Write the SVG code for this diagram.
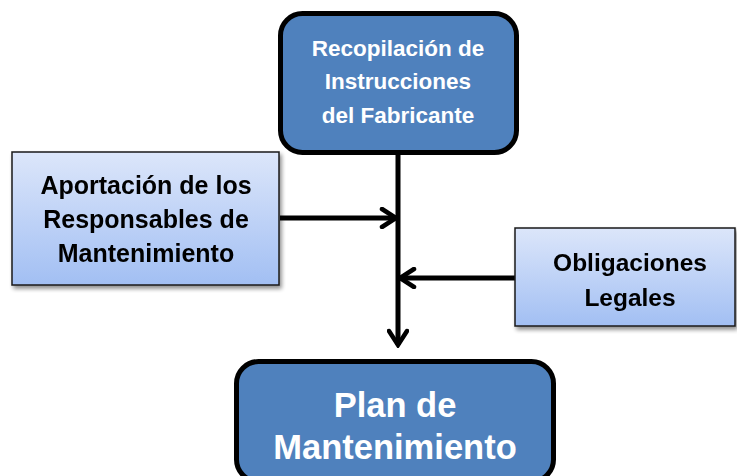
<svg xmlns="http://www.w3.org/2000/svg" width="737" height="476" viewBox="0 0 737 476">
<defs>
<linearGradient id="lg" x1="0" y1="0" x2="0" y2="1">
<stop offset="0" stop-color="#dce6fa"/>
<stop offset="1" stop-color="#a2bff3"/>
</linearGradient>
<filter id="sh" x="-10%" y="-10%" width="125%" height="130%">
<feGaussianBlur in="SourceAlpha" stdDeviation="2"/>
<feOffset dx="2" dy="3" result="b"/>
<feComponentTransfer><feFuncA type="linear" slope="0.45"/></feComponentTransfer>
<feMerge><feMergeNode/><feMergeNode in="SourceGraphic"/></feMerge>
</filter>
<marker id="ah" viewBox="0 0 22 22" refX="19" refY="11" markerWidth="22" markerHeight="22" markerUnits="userSpaceOnUse" orient="auto">
<path d="M5,2 L19,11 L5,20" fill="none" stroke="#000" stroke-width="4.5" stroke-linecap="round" stroke-linejoin="miter"/>
</marker>
</defs>
<style>
.dark{fill:#4f81bd;stroke:#000;stroke-width:5}
.light{fill:url(#lg);stroke:#1a1a1a;stroke-width:1.5}
.wt{font-family:"Liberation Sans",Arial,sans-serif;font-weight:bold;fill:#fff;text-anchor:middle;dominant-baseline:central}
.bt{font-family:"Liberation Sans",Arial,sans-serif;font-weight:bold;fill:#000;text-anchor:middle;dominant-baseline:central}
.c{fill:none;stroke:#000;stroke-width:5}
</style>
<g id="connectors">
<line class="c" x1="398" y1="153" x2="398" y2="345" marker-end="url(#ah)"/>
<line class="c" x1="280" y1="218" x2="396" y2="218" marker-end="url(#ah)"/>
<line class="c" x1="515" y1="278" x2="400" y2="278" marker-end="url(#ah)"/>
</g>
<g id="recopilacion">
<rect class="dark" x="280.5" y="13.5" width="236" height="139" rx="22"/>
<text class="wt" font-size="22.5" x="398" y="48">Recopilación de</text>
<text class="wt" font-size="22.5" x="398" y="81">Instrucciones</text>
<text class="wt" font-size="22.5" x="398" y="115">del Fabricante</text>
</g>
<g id="aportacion" filter="url(#sh)">
<rect class="light" x="12" y="152" width="267" height="133"/>
<text class="bt" font-size="25" x="146" y="185">Aportación de los</text>
<text class="bt" font-size="25" x="146" y="219">Responsables de</text>
<text class="bt" font-size="25" x="146" y="253">Mantenimiento</text>
</g>
<g id="obligaciones" filter="url(#sh)">
<rect class="light" x="515" y="228" width="220" height="98"/>
<text class="bt" font-size="24.5" x="630" y="262">Obligaciones</text>
<text class="bt" font-size="24.5" x="630" y="297">Legales</text>
</g>
<g id="plan">
<rect class="dark" x="236.5" y="361.5" width="317" height="120" rx="22"/>
<text class="wt" font-size="34.5" x="395" y="405">Plan de</text>
<text class="wt" font-size="34.5" x="395" y="447">Mantenimiento</text>
</g>
</svg>
